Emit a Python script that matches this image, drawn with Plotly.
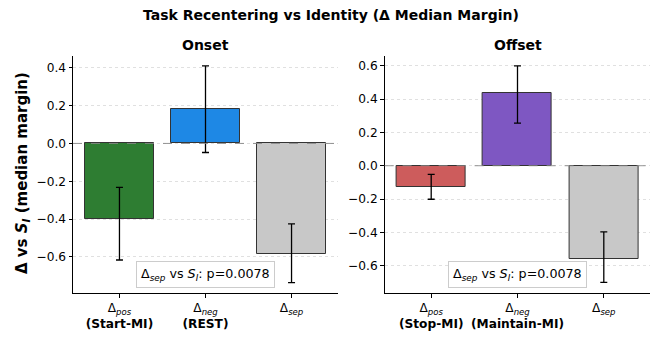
import plotly.graph_objects as go

# ---- data ----
onset_labels = ["Δ<sub><i>pos</i></sub><br><b>(Start-MI)</b>",
                "Δ<sub><i>neg</i></sub><br><b>(REST)</b>",
                "Δ<sub><i>sep</i></sub>"]
onset_values = [-0.40, 0.18, -0.585]
onset_err_hi = [-0.232, 0.41, -0.425]
onset_err_lo = [-0.616, -0.048, -0.736]
onset_colors = ["#2e7d32", "#1e88e5", "#c8c8c8"]

offset_labels = ["Δ<sub><i>pos</i></sub><br><b>(Stop-MI)</b>",
                 "Δ<sub><i>neg</i></sub><br><b>(Maintain-MI)</b>",
                 "Δ<sub><i>sep</i></sub>"]
offset_values = [-0.126, 0.434, -0.557]
offset_err_hi = [-0.052, 0.599, -0.397]
offset_err_lo = [-0.201, 0.256, -0.699]
offset_colors = ["#cd5c5c", "#7e57c2", "#c8c8c8"]

onset_yticks = [-0.6, -0.4, -0.2, 0.0, 0.2, 0.4]
offset_yticks = [-0.6, -0.4, -0.2, 0.0, 0.2, 0.4, 0.6]
pval_text = "Δ<sub><i>sep</i></sub> vs <i>S<sub>I</sub></i>: p=0.0078"

FONT = "DejaVu Sans"
W, H = 661, 339
FS = 12.2

fig = go.Figure()

def add_panel(idx, values, hi, lo, colors):
    xs = list(range(len(values)))
    fig.add_trace(go.Bar(
        x=xs, y=values, width=0.8,
        marker=dict(color=colors, line=dict(color="#333333", width=1)),
        error_y=dict(type="data", symmetric=False,
                     array=[h - v for h, v in zip(hi, values)],
                     arrayminus=[v - l for l, v in zip(lo, values)],
                     color="black", thickness=1.3, width=3.5),
        xaxis="x" if idx == 1 else "x2",
        yaxis="y" if idx == 1 else "y2",
        showlegend=False, hoverinfo="skip",
    ))

add_panel(1, onset_values, onset_err_hi, onset_err_lo, onset_colors)
add_panel(2, offset_values, offset_err_hi, offset_err_lo, offset_colors)

ydom = [1 - 293.3 / H, 1 - 56 / H]
common_x = dict(range=[-0.54, 2.54], tickmode="array", tickvals=[0, 1, 2],
                showline=True, linecolor="black", linewidth=1, ticks="outside",
                ticklen=3.5, tickcolor="black", showgrid=False, zeroline=False,
                tickfont=dict(family=FONT, size=FS, color="black"))
common_y = dict(showline=True, linecolor="black", linewidth=1, ticks="outside",
                ticklen=3.5, tickcolor="black", showgrid=True, gridcolor="#e0e0e0",
                griddash="dot", gridwidth=0.7, zeroline=False, domain=ydom,
                tickfont=dict(family=FONT, size=FS, color="black"),
                tickformat=".1f")

fig.update_layout(
    width=W, height=H,
    margin=dict(l=0, r=0, t=0, b=0),
    plot_bgcolor="white", paper_bgcolor="white",
    xaxis=dict(common_x, domain=[73 / W, 338 / W], ticktext=onset_labels, anchor="y"),
    yaxis=dict(common_y, range=[-0.792, 0.462], tickvals=onset_yticks, anchor="x"),
    xaxis2=dict(common_x, domain=[384.6 / W, 650.4 / W], ticktext=offset_labels, anchor="y2"),
    yaxis2=dict(common_y, range=[-0.765, 0.658], tickvals=offset_yticks, anchor="x2"),
    bargap=0,
)

# zero dashed lines
for xr, yr in (("x domain", "y"), ("x2 domain", "y2")):
    fig.add_shape(type="line", xref=xr, yref=yr, x0=0, x1=1, y0=0, y1=0,
                  line=dict(color="#888888", width=0.9, dash="dash"), layer="above")

# p-value boxes
for xr, yr in (("x domain", "y domain"), ("x2 domain", "y2 domain")):
    fig.add_annotation(xref=xr, yref=yr, x=0.5, y=0.022, xanchor="center", yanchor="bottom",
                       text=pval_text, showarrow=False,
                       font=dict(family=FONT, size=12.7, color="black"),
                       bgcolor="white", bordercolor="#cccccc", borderwidth=1, borderpad=4)

# y-axis label
fig.add_annotation(xref="paper", yref="paper", x=22 / W, y=1 - 173 / H,
                   xanchor="center", yanchor="middle", textangle=-90,
                   text="<b>Δ vs <i>S<sub>I</sub></i> (median margin)</b>", showarrow=False,
                   font=dict(family=FONT, size=15, color="black"))

# titles
fig.add_annotation(xref="paper", yref="paper", x=0.5, y=1 - 15 / H, yanchor="middle",
                   text="<b>Task Recentering vs Identity (Δ Median Margin)</b>",
                   showarrow=False, font=dict(family=FONT, size=14, color="black"))
fig.add_annotation(xref="x domain", yref="paper", x=0.5, y=1 - 45 / H, yanchor="middle",
                   text="<b>Onset</b>", showarrow=False,
                   font=dict(family=FONT, size=14, color="black"))
fig.add_annotation(xref="x2 domain", yref="paper", x=0.5, y=1 - 45 / H, yanchor="middle",
                   text="<b>Offset</b>", showarrow=False,
                   font=dict(family=FONT, size=14, color="black"))

fig.write_html("out.html", config={"displayModeBar": False},
               post_script="document.body.style.margin='0px';")
